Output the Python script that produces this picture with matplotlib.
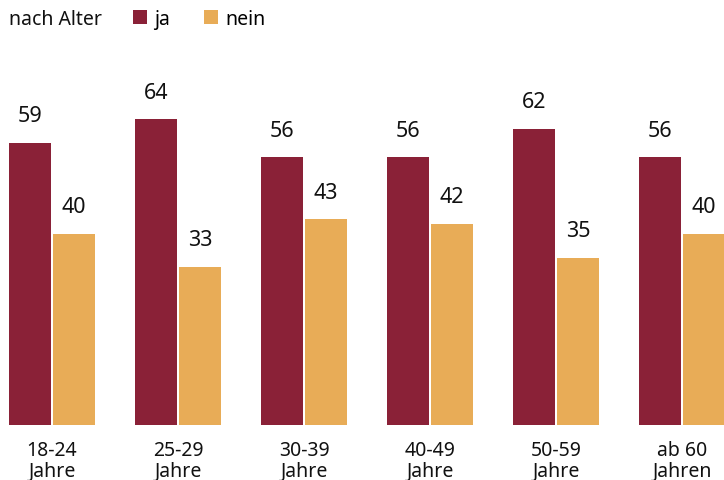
import numpy as np
import matplotlib
matplotlib.use("Agg")
from matplotlib import pyplot as plt

plt.rcParams["font.family"] = ["Noto Sans", "DejaVu Sans"]

CATEGORIES = ["18-24\nJahre", "25-29\nJahre", "30-39\nJahre", "40-49\nJahre", "50-59\nJahre", "ab 60\nJahren"]
JA = [59, 64, 56, 56, 62, 56]
NEIN = [40, 33, 43, 42, 35, 40]
SERIES_NAMES = ["ja", "nein"]
COLORS = ["#8a2137", "#e8ac57"]

W, H = 724, 481
fig = plt.figure(figsize=(W / 100, H / 100), dpi=100)

# axes spans the full width; baseline at pixel row ~425.5
base_px = 425.5
ax = fig.add_axes([0, (H - base_px) / H, 1, base_px / H])
px_per_unit = 4.77
ax.set_ylim(0, base_px / px_per_unit)
pitch = 126
first_center = 52
ax.set_xlim((0 - first_center) / pitch, (W - first_center) / pitch)

x = np.arange(len(CATEGORIES))
bw = 42 / pitch
gap = 2 / pitch
bars = []
for k, (vals, color) in enumerate(zip([JA, NEIN], COLORS)):
    offs = -(bw + gap) / 2 if k == 0 else (bw + gap) / 2
    b = ax.bar(x + offs, vals, width=bw, color=color, label=SERIES_NAMES[k])
    bars.append(b)
    for xi, v in zip(x + offs, vals):
        ax.annotate(str(v), (xi, v), xytext=(0, 12), textcoords="offset points",
                    ha="center", va="bottom", fontsize=15.5, color="#111111")

ax.set_xticks(x)
ax.set_xticklabels(CATEGORIES, fontsize=14, color="#111111", linespacing=1.05)
ax.tick_params(axis="x", length=0, pad=11)
ax.set_yticks([])
for s in ax.spines.values():
    s.set_visible(False)
ax.patch.set_alpha(0)

fig.text(9 / W, 1 - 20 / H, "nach Alter", fontsize=14, color="#111111", va="center", ha="left")
fig.legend(handles=bars, labels=SERIES_NAMES, ncol=2, loc="center left",
           bbox_to_anchor=(133 / W, 1 - 20 / H), frameon=False, fontsize=14,
           handlelength=0.7, handleheight=0.7, handletextpad=0.4, columnspacing=1.75,
           borderaxespad=0, borderpad=0)

fig.savefig("out.png", dpi=100)
